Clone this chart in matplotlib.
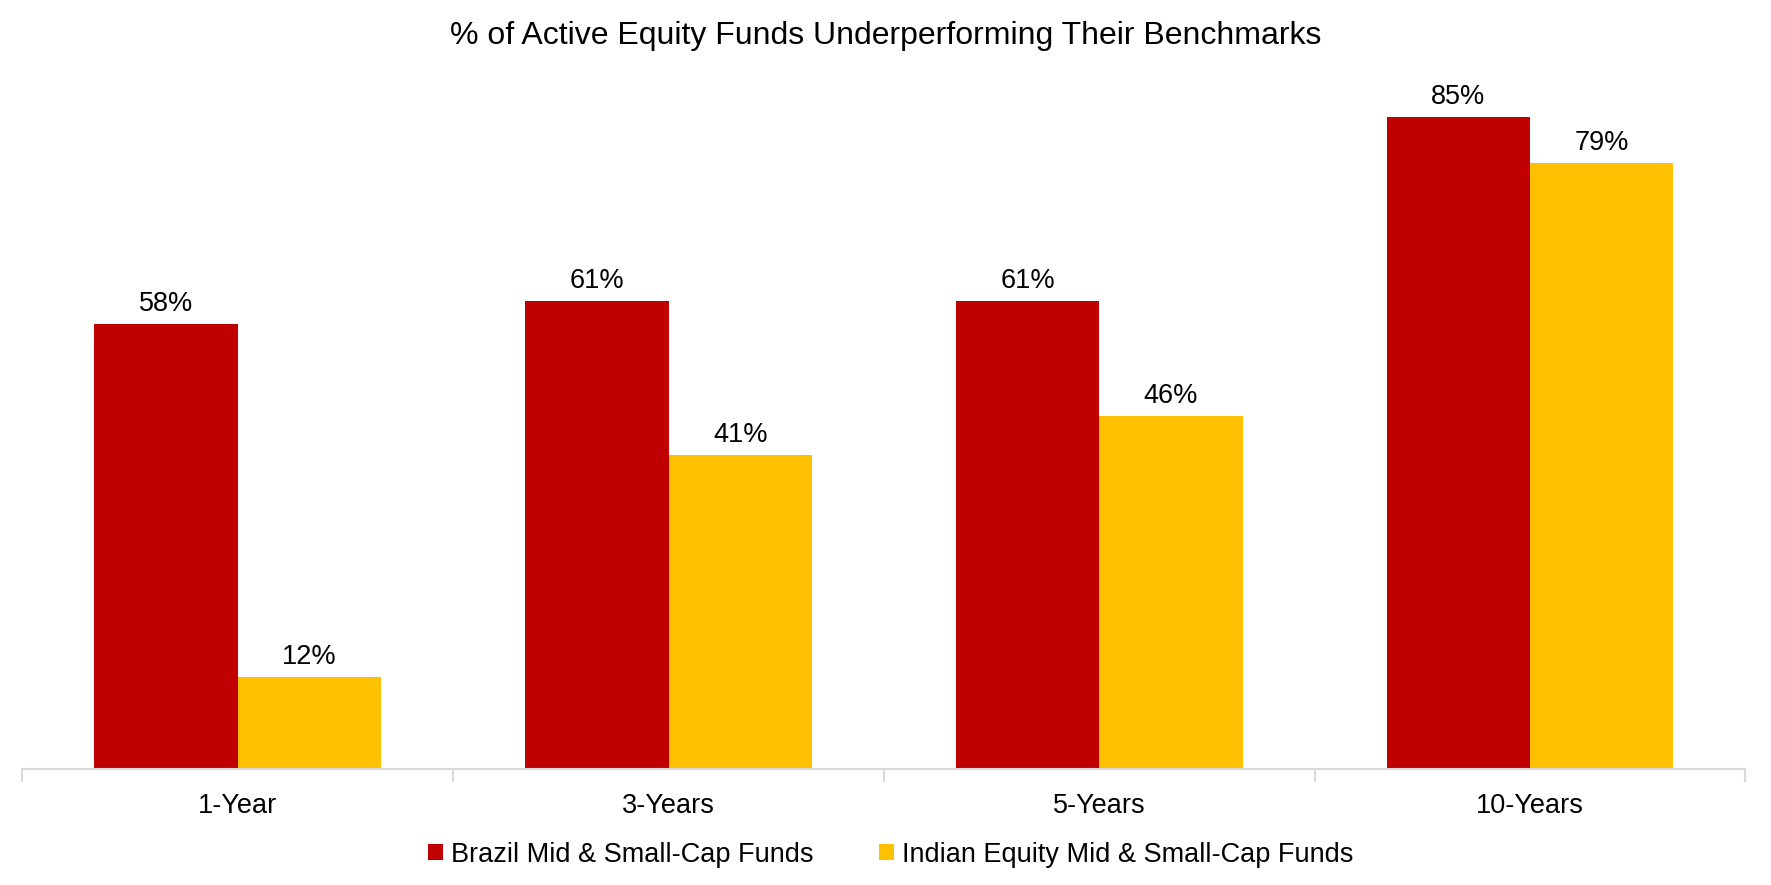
import numpy as np
import matplotlib.pyplot as plt

plt.rcParams['font.family'] = ['Liberation Sans', 'DejaVu Sans']

categories = ['1-Year', '3-Years', '5-Years', '10-Years']
brazil = [58, 61, 61, 85]
india = [12, 41, 46, 79]
series_names = ['Brazil Mid & Small-Cap Funds', 'Indian Equity Mid & Small-Cap Funds']

RED = '#C00000'
YELLOW = '#FFC000'
GRID = '#D9D9D9'

fig = plt.figure(figsize=(17.71, 8.85), dpi=100)
ax = fig.add_axes([0.0127, 0.131, 0.9728, 0.78])

x = np.arange(len(categories))
w = 0.333
b1 = ax.bar(x - w / 2, brazil, w, color=RED, label=series_names[0])
b2 = ax.bar(x + w / 2, india, w, color=YELLOW, label=series_names[1])

for bars in (b1, b2):
    for r in bars:
        ax.annotate(f'{r.get_height():.0f}%',
                    (r.get_x() + r.get_width() / 2, r.get_height()),
                    xytext=(0, 5), textcoords='offset points',
                    ha='center', va='bottom', fontsize=19.5)

ax.set_xlim(-0.5, len(categories) - 0.5)
ax.set_ylim(0, 90)
ax.set_yticks([])
ax.set_xticks(x)
ax.set_xticklabels(categories, fontsize=19.5)
ax.set_xticks(np.arange(len(categories) + 1) - 0.5, minor=True)
ax.tick_params(axis='x', which='major', length=0, pad=17)
ax.tick_params(axis='x', which='minor', length=9, width=1.5, color=GRID)

for s in ['top', 'right', 'left']:
    ax.spines[s].set_visible(False)
ax.spines['bottom'].set_color(GRID)
ax.spines['bottom'].set_linewidth(1.5)

fig.text(0.5, 0.959, '% of Active Equity Funds Underperforming Their Benchmarks',
         fontsize=23, ha='center', va='center')

fig.legend(loc='center', bbox_to_anchor=(0.503, 0.034), ncol=2, frameon=False,
           fontsize=19.5, handlelength=0.55, handleheight=0.55, handletextpad=0.3,
           columnspacing=2.4)

fig.savefig('out.png', dpi=100)
